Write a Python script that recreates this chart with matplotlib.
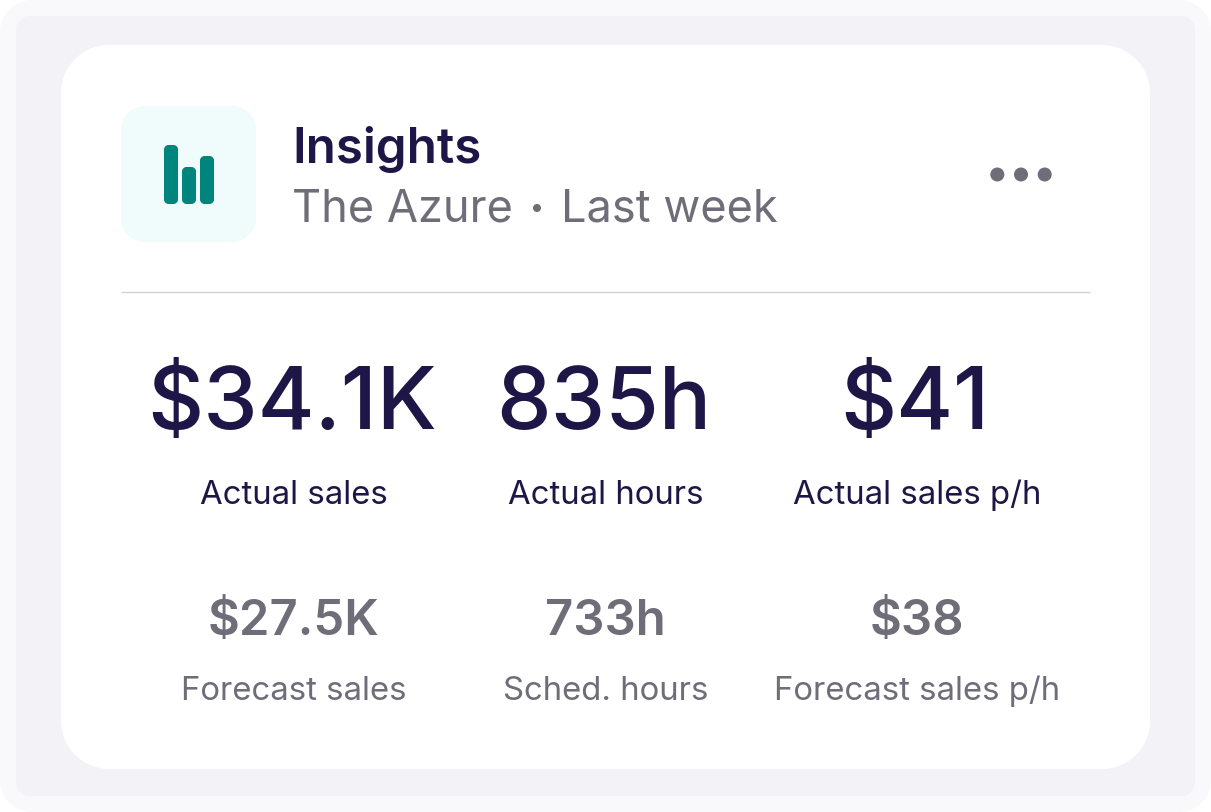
"""
Insights card: weekly actual and forecast figures for The Azure
"""
import matplotlib
matplotlib.use('Agg')
import matplotlib.pyplot as plt
from matplotlib.patches import PathPatch, Circle
from matplotlib.path import Path

plt.rcParams['font.family'] = ['Inter', 'DejaVu Sans']

TITLE = "Insights"
SUBTITLE_LEFT = "The Azure"
SUBTITLE_RIGHT = "Last week"

ACTUAL_VALUES = ["$34.1K", "835h", "$41"]
ACTUAL_LABELS = ["Actual sales", "Actual hours", "Actual sales p/h"]
FORECAST_VALUES = ["$27.5K", "733h", "$38"]
FORECAST_LABELS = ["Forecast sales", "Sched. hours", "Forecast sales p/h"]
ICON_BAR_HEIGHTS = [59, 37, 48]

WIDTH, HEIGHT = 1211, 812
NAVY = '#1E1646'
GREY = '#6E6D78'
TEAL = '#00857C'
COLUMN_X = [293.5, 605.5, 917]
BIG_X = [293.5, 605, 916]


def rounded(ax, x0, y0, x1, y1, r, color, zorder=1):
    """Rectangulo con esquinas circulares en coordenadas de pixel."""
    k = r * 0.4477  # distancia del punto de control a la esquina
    verts = [(x0 + r, y0), (x1 - r, y0),
             (x1 - k, y0), (x1, y0 + k), (x1, y0 + r),
             (x1, y1 - r),
             (x1, y1 - k), (x1 - k, y1), (x1 - r, y1),
             (x0 + r, y1),
             (x0 + k, y1), (x0, y1 - k), (x0, y1 - r),
             (x0, y0 + r),
             (x0, y0 + k), (x0 + k, y0), (x0 + r, y0),
             (x0 + r, y0)]
    c4, ln = Path.CURVE4, Path.LINETO
    codes = [Path.MOVETO, ln, c4, c4, c4, ln, c4, c4, c4, ln, c4, c4, c4, ln, c4, c4, c4, Path.CLOSEPOLY]
    ax.add_patch(PathPatch(Path(verts, codes), facecolor=color, edgecolor='none', zorder=zorder))


# +0.01 para que el redondeo no deje la imagen en 811 px
fig = plt.figure(figsize=((WIDTH + 0.01) / 100, (HEIGHT + 0.01) / 100), dpi=100, facecolor='white')
ax = fig.add_axes([0, 0, 1, 1])
ax.set_xlim(0, WIDTH)
ax.set_ylim(HEIGHT, 0)
ax.axis('off')

# fondos
rounded(ax, 0, 0, WIDTH, HEIGHT, 32, '#F9F9FB', 1)
rounded(ax, 16, 16, 1195, 796, 14, '#F2F2F7', 2)
rounded(ax, 61, 45, 1150, 769, 48, '#FFFFFF', 3)

# icono
rounded(ax, 121, 106, 256, 242, 24, '#F0FBFC', 4)
for i, h in enumerate(ICON_BAR_HEIGHTS):
    x0 = 164 + i * 18
    rounded(ax, x0, 204 - h, x0 + 14, 204, 4.5, TEAL, 5)

# cabecera
ax.text(292, 149, TITLE, fontsize=35.5, fontweight='semibold', color=NAVY, va='center', ha='left', zorder=6)
ax.text(292, 209, SUBTITLE_LEFT, fontsize=32.5, color=GREY, va='center', ha='left', zorder=6)
ax.add_patch(Circle((537, 208), 4, facecolor=GREY, edgecolor='none', zorder=6))
ax.text(561, 209, SUBTITLE_RIGHT, fontsize=32.5, color=GREY, va='center', ha='left', zorder=6)
for i in range(3):
    ax.add_patch(Circle((997.3 + i * 23.7, 174.5), 7, facecolor=GREY, edgecolor='none', zorder=6))
ax.plot([121, 1090], [292.5, 292.5], color='#D2D2D4', lw=1.0, zorder=6, solid_capstyle='butt')

# metricas
for x, bx, value, label in zip(COLUMN_X, BIG_X, ACTUAL_VALUES, ACTUAL_LABELS):
    ax.text(bx - 1.5, 406, value, fontsize=62.6, fontweight='medium', color=NAVY, va='center', ha='center', zorder=6)
    ax.text(x, 495.5, label, fontsize=23.7, color=NAVY, va='center', ha='center', zorder=6)
for x, value, label in zip(COLUMN_X, FORECAST_VALUES, FORECAST_LABELS):
    ax.text(x, 622, value, fontsize=35.3, fontweight='semibold', color=GREY, va='center', ha='center', zorder=6)
    ax.text(x, 691.5, label, fontsize=23.7, color=GREY, va='center', ha='center', zorder=6)

fig.savefig('out.png', dpi=100)
plt.close(fig)
